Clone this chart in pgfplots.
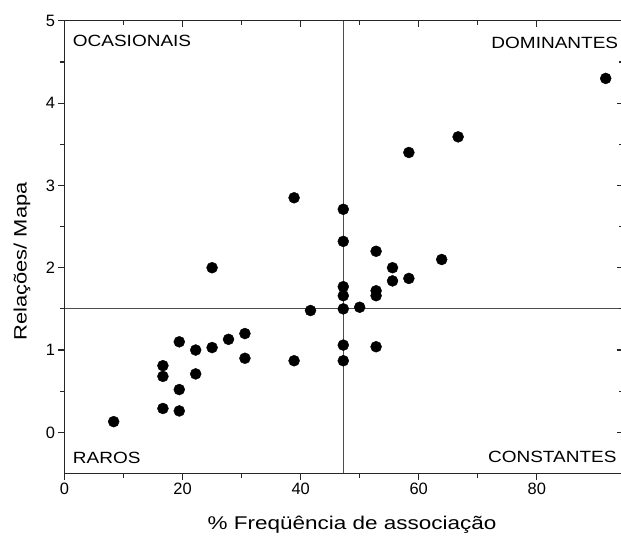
\documentclass[border=0pt]{standalone}
\usepackage{fontspec}
\setmainfont{Liberation Sans}
\newfontfamily\wide[FakeStretch=1.17]{Liberation Sans}
\newfontfamily\wider[FakeStretch=1.22]{Liberation Sans}
\usepackage{pgfplots}
\usepackage{pgfplotstable}
\pgfplotsset{compat=1.18}

% frequency of association (%) vs relations per map
\pgfplotstableread{
x      y
8.33   0.13
16.67  0.81
16.67  0.68
16.67  0.29
19.44  1.10
19.44  0.52
19.44  0.26
22.22  1.00
22.22  0.71
25.00  1.03
25.00  2.00
27.78  1.13
30.56  1.20
30.56  0.90
38.89  0.87
38.89  2.85
41.67  1.48
47.22  2.71
47.22  2.32
47.22  1.77
47.22  1.66
47.22  1.50
47.22  1.06
47.22  0.87
50.00  1.52
52.78  2.20
52.78  1.72
52.78  1.66
52.78  1.04
55.56  2.00
55.56  1.84
58.33  1.87
58.33  3.40
63.89  2.10
66.67  3.59
91.67  4.30
}\assoc

\begin{document}
\begin{tikzpicture}
\pgfplotsset{
  frame/.style={
    width=558.5bp, height=452.7bp, scale only axis,
    anchor=south west, at={(0,0)},
    xmin=0, xmax=94.6, ymin=-0.5, ymax=5,
    xtick={0,20,40,60,80}, ytick={0,1,2,3,4,5},
    minor x tick num=1, minor y tick num=1,
    major tick length=6bp, minor tick length=4bp,
    axis line style={black!85, line width=1.2bp},
    every tick/.append style={black!85, line width=1.1bp},
    tick label style={font=\fontsize{16.5}{19}\selectfont},
    /pgf/number format/assume math mode=true,
  }
}
\begin{axis}[frame, tick align=outside, xtick pos=left, ytick pos=left, clip=false]
  \draw[black!70, line width=1bp] (axis cs:47.22,-0.5) -- (axis cs:47.22,5);
  \draw[black!70, line width=1bp] (axis cs:0,1.5) -- (axis cs:94.6,1.5);
  \addplot[only marks, mark=*, mark size=5.5bp, black] table[x=x, y=y] {\assoc};
\end{axis}
\begin{axis}[frame, tick align=inside, xtick pos=right, ytick pos=right,
  xticklabels={}, yticklabels={}]
\end{axis}

\tikzset{quad/.style={inner sep=0pt, font=\wide\fontsize{16.3}{19}\selectfont}}
\node[quad, anchor=base west] at (8.2bp,426.5bp) {OCASIONAIS};
\node[quad, anchor=base east] at (553.8bp,425.2bp) {DOMINANTES};
\node[quad, anchor=base west] at (8.2bp,10.2bp) {RAROS};
\node[quad, anchor=base east] at (552.2bp,10.8bp) {CONSTANTES};

\node[inner sep=0pt, anchor=base, font=\wider\fontsize{18.5}{22}\selectfont] at (287.5bp,-55.5bp) {\% Freqüência de associação};
\node[inner sep=0pt, anchor=base, rotate=90, font=\wider\fontsize{18}{22}\selectfont] at (-37.8bp,212bp) {Relações/ Mapa};

\pgfresetboundingbox
\path[use as bounding box] (-64.5bp,-63.5bp) rectangle (556.5bp,473.5bp);
\end{tikzpicture}
\end{document}
